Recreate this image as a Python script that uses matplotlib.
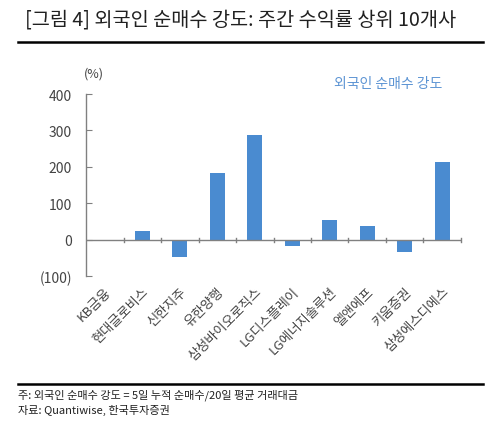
import matplotlib
matplotlib.use("Agg")
import matplotlib.pyplot as plt
from matplotlib.lines import Line2D

plt.rcParams['font.family'] = ['Noto Sans CJK KR', 'DejaVu Sans']

categories = ['KB금융', '현대글로비스', '신한지주', '유한양행', '삼성바이오로직스',
              'LG디스플레이', 'LG에너지솔루션', '엘앤에프', '키움증권', '삼성에스디에스']
values = [0, 23, -48, 184, 288, -16, 53, 38, -33, 212]
yticks = [-100, 0, 100, 200, 300, 400]
yticklabels = ['(100)', '0', '100', '200', '300', '400']

bar_color = '#4a8bd0'
axis_color = '#808080'
text_color = '#444444'

fig = plt.figure(figsize=(5, 4.27), dpi=100)
ax = fig.add_axes([0.172, 0.351, 0.75, 0.4265])

x = list(range(len(categories)))
ax.bar(x, values, width=0.4, color=bar_color, zorder=2)
ax.set_xlim(-0.5, len(categories) - 0.5)
ax.set_ylim(-100, 400)
ax.set_yticks(yticks)
ax.set_yticklabels(yticklabels, color=text_color, fontsize=10)
ax.tick_params(axis='y', direction='in', length=4, color=axis_color, pad=10)

for s in ['top', 'right', 'bottom']:
    ax.spines[s].set_visible(False)
ax.spines['left'].set_color(axis_color)
ax.spines['left'].set_linewidth(1.0)

ax.axhline(0, color=axis_color, linewidth=1.0, zorder=3)
ax.set_xticks(x)
ax.set_xticklabels(categories, rotation=45, ha='right', rotation_mode='anchor',
                   fontsize=9.5, color=text_color)
ax.tick_params(axis='x', length=0, pad=6)
# boundary ticks on zero line
for b in range(1, len(categories) + 1):
    ax.plot([b - 0.5, b - 0.5], [-5, 4], color=axis_color, linewidth=1.0,
            clip_on=False, zorder=3)

ax.text(-0.28, 458, '(%)', ha='center', va='center', fontsize=9, color=text_color,
        clip_on=False)
ax.text(7.55, 430, '외국인 순매수 강도', ha='center', va='center', fontsize=10,
        color='#5b93d3', clip_on=False)

fig.text(0.05, 0.953, '[그림 4] 외국인 순매수 강도: 주간 수익률 상위 10개사',
         fontsize=14.2, color='#202020', va='center', ha='left')
fig.add_artist(Line2D([0.036, 0.966], [0.899, 0.899], color='black', linewidth=1.8))
fig.add_artist(Line2D([0.036, 0.966], [0.098, 0.098], color='black', linewidth=1.8))
fig.text(0.036, 0.074, '주: 외국인 순매수 강도 = 5일 누적 순매수/20일 평균 거래대금',
         fontsize=8, color='#202020', va='center', ha='left')
fig.text(0.036, 0.039, '자료: Quantiwise, 한국투자증권',
         fontsize=8, color='#202020', va='center', ha='left')

fig.savefig('out.png', dpi=100)
